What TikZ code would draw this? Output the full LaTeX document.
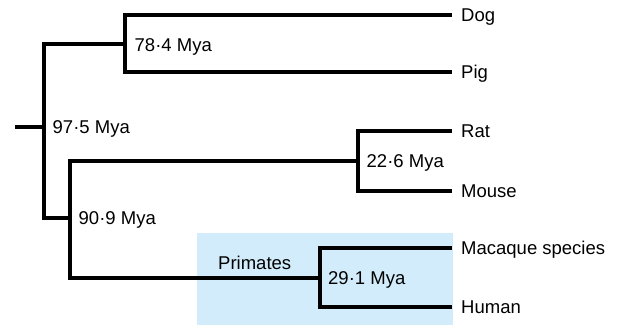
\documentclass[tikz,border=0pt]{standalone}
\usepackage{fontspec}
\setmainfont{Liberation Sans}
\definecolor{primbg}{RGB}{210,236,251}
\begin{document}
\begin{tikzpicture}[x=1pt,y=-1pt,
  branch/.style={line width=4pt,line join=miter,black},
  lbl/.style={anchor=base west,inner sep=0pt,font=\fontsize{18.5}{20}\selectfont}]
\useasboundingbox (0,0) rectangle (617,325);
% primates background
\fill[primbg] (197,233) rectangle (453,325);
% tree coordinates
\coordinate (r0) at (15,127);
\coordinate (n97) at (44,127);
\coordinate (n78) at (125,43.5);
\coordinate (n90) at (70,218);
\coordinate (n22) at (358,161);
\coordinate (n29) at (320,278);
\coordinate (dog) at (452,15);
\coordinate (pig) at (452,72);
\coordinate (rat) at (452,131);
\coordinate (mouse) at (452,191);
\coordinate (mac) at (452,248);
\coordinate (human) at (452,307);
% branches
\draw[branch] (dog) -| (n78) |- (pig);
\draw[branch] (rat) -| (n22) |- (mouse);
\draw[branch] (mac) -| (n29) |- (human);
\draw[branch] (n22) -| (n90) |- (n29);
\draw[branch] (n78) -| (n97) |- (n90);
\draw[branch] (r0) -- (n97);
% leaf labels
\node[lbl] (tdog) at (461,21.5) {Dog};
\node[lbl] (tpig) at (461,78.5) {Pig};
\node[lbl] (trat) at (461,137.5) {Rat};
\node[lbl] (tmouse) at (461,197.5) {Mouse};
\node[lbl] (tmac) at (461,254.5) {Macaque species};
\node[lbl] (thuman) at (461,313.5) {Human};
% divergence labels
\node[lbl] (t78) at (134.5,51.5) {78·4 Mya};
\node[lbl] (t97) at (52.5,133.5) {97·5 Mya};
\node[lbl] (t90) at (78.5,224.5) {90·9 Mya};
\node[lbl] (t22) at (366.5,167.5) {22·6 Mya};
\node[lbl] (t29) at (328,284.5) {29·1 Mya};
\node[lbl] (tprim) at (218,269) {Primates};
\end{tikzpicture}
\end{document}
